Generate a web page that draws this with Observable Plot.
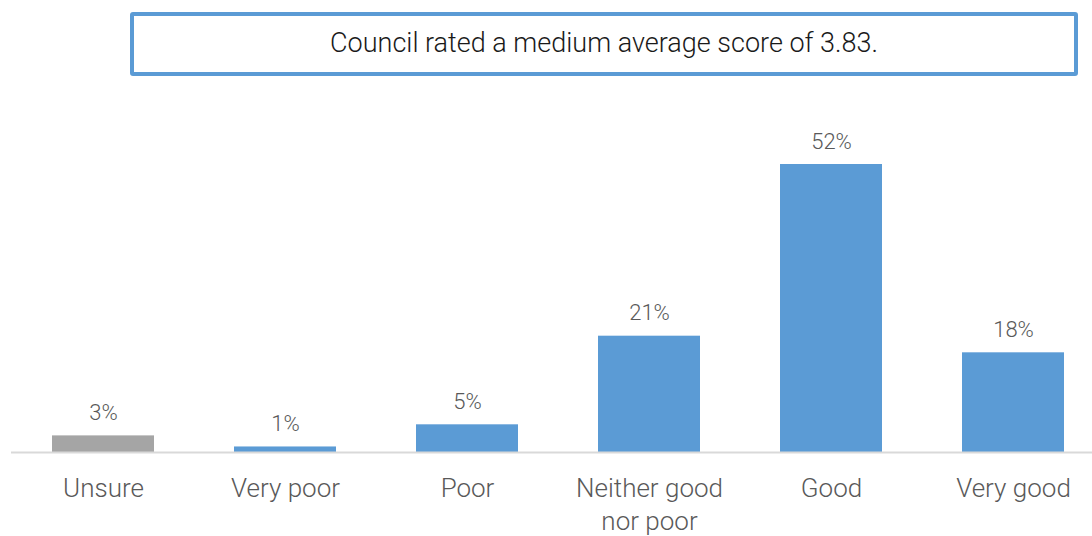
<!DOCTYPE html>
<html>
<head>
<meta charset="utf-8">
<script src="https://cdn.jsdelivr.net/npm/d3@7"></script>
<script src="https://cdn.jsdelivr.net/npm/@observablehq/plot@0.6"></script>
<style>
  html, body { margin: 0; padding: 0; background: #fff; }
  body { width: 1092px; height: 536px; overflow: hidden; font-family: Roboto, sans-serif; }
  #head { position: relative; height: 88px; }
  #box {
    position: absolute; left: 130px; top: 12px; width: 948px; height: 64px;
    box-sizing: border-box; border: 4px solid #5B9BD5; border-radius: 3px;
    display: flex; align-items: center; justify-content: center;
    font-family: Roboto, sans-serif; font-weight: 300; font-size: 27px; color: #1a1a1a;
    padding-bottom: 2px;
  }
  #chart svg { display: block; }
</style>
</head>
<body>
<div id="head"><div id="box">Council rated a medium average score of 3.83.</div></div>
<div id="chart"></div>
<script>
const categories = ["Unsure", "Very poor", "Poor", "Neither good nor poor", "Good", "Very good"];
const categoryLabels = ["Unsure", "Very poor", "Poor", "Neither good\nnor poor", "Good", "Very good"];
const values = [3, 1, 5, 21, 52, 18];

const data = categories.map((c, i) => ({category: c, label: categoryLabels[i], value: values[i]}));

const blue = "#5B9BD5", gray = "#A5A5A5", textColor = "#595959";

const chart = Plot.plot({
  width: 1092,
  height: 448,
  marginLeft: 11,
  marginRight: 0,
  marginTop: 0,
  marginBottom: 0,
  style: {fontFamily: "Roboto, sans-serif", background: "#fff"},
  x: {type: "band", domain: categories, range: [12, 1104], paddingInner: 0.44, paddingOuter: 0.22, axis: null},
  y: {domain: [0, 52], range: [364, 76], axis: null},
  marks: [
    Plot.barY(data, {x: "category", y: "value", fill: d => d.category === "Unsure" ? gray : blue}),
    Plot.ruleY([0], {stroke: "#D9D9D9", strokeWidth: 2}),
    Plot.text(data, {x: "category", y: "value", text: d => `${d.value}%`, lineAnchor: "bottom", dy: -16,
      fontSize: 22, fontWeight: 300, fill: textColor}),
    Plot.text(data, {x: "category", y: 0, text: "label", lineAnchor: "top", dy: 20, lineHeight: 1.3,
      fontSize: 26, fontWeight: 300, fill: textColor})
  ]
});
document.getElementById("chart").appendChild(chart);
</script>
</body>
</html>
